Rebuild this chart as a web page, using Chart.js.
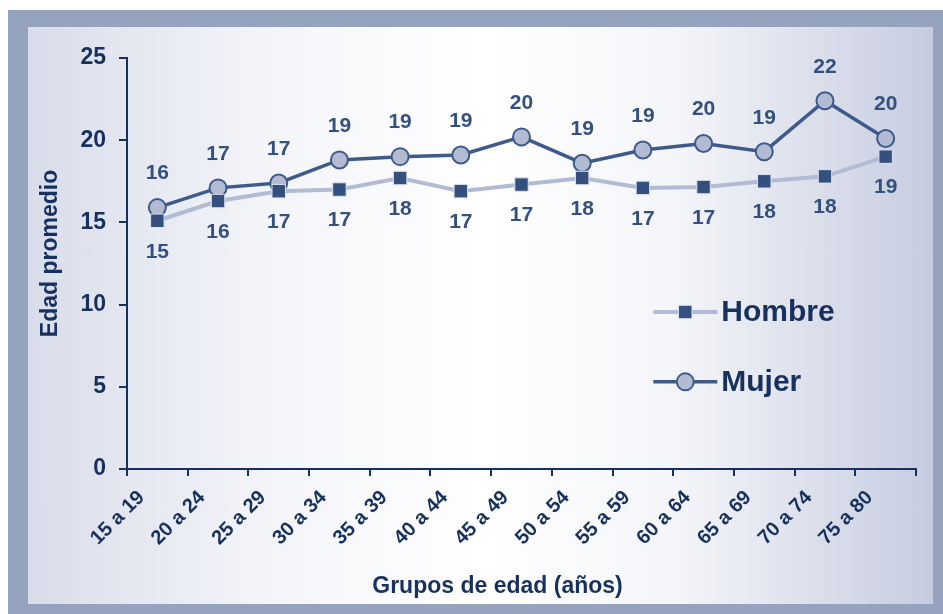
<!DOCTYPE html>
<html>
<head>
<meta charset="utf-8">
<script src="https://cdn.jsdelivr.net/npm/chart.js@4"></script>
<style>
  html, body { margin: 0; padding: 0; background: #ffffff; }
  #marco {
    position: absolute; left: 8px; top: 10px; width: 935px; height: 604px;
    background: #95a3bf;
  }
  #panel {
    position: absolute; left: 20px; top: 17px; width: 905px; height: 577px;
    background: linear-gradient(to right, #d9dcea 0%, #f3f4f9 25%, #ffffff 50%, #f4f5f9 72%, #c6cce0 100%);
  }
  canvas { display: block; }
</style>
</head>
<body>
<div id="marco">
  <div id="panel">
    <canvas id="grafica" width="905" height="577"></canvas>
  </div>
</div>
<script>
// Datos
const grupos = ["15 a 19", "20 a 24", "25 a 29", "30 a 34", "35 a 39", "40 a 44", "45 a 49",
                "50 a 54", "55 a 59", "60 a 64", "65 a 69", "70 a 74", "75 a 80"];
const hombre = [15.1, 16.3, 16.9, 17.0, 17.7, 16.9, 17.3, 17.7, 17.1, 17.15, 17.5, 17.8, 19.0];
const mujer = [15.9, 17.1, 17.4, 18.8, 19.0, 19.1, 20.2, 18.6, 19.4, 19.8, 19.3, 22.4, 20.1];
const ticksY = [0, 5, 10, 15, 20, 25];
const tituloX = 'Grupos de edad (años)';
const tituloY = 'Edad promedio';

const fuente = "'Liberation Sans', Arial, sans-serif";
const azulOscuro = '#17315f';
const azulEtiqueta = '#34507f';

// Etiquetas de valores (arriba Mujer, abajo Hombre)
const etiquetas = {
    id: 'etiquetas',
    afterDatasetsDraw(chart) {
        const ctx = chart.ctx;
        ctx.save();
        ctx.font = 'bold 21px ' + fuente;
        ctx.fillStyle = azulEtiqueta;
        ctx.textAlign = 'center';
        ctx.textBaseline = 'middle';
        chart.data.datasets.forEach((ds, i) => {
            const meta = chart.getDatasetMeta(i);
            meta.data.forEach((p, j) => {
                const dy = ds.label === 'Mujer' ? -34 : 31;
                ctx.fillText(Math.round(ds.data[j]), p.x, p.y + dy);
            });
        });
        ctx.restore();
    }
};

// Títulos de los ejes
const titulos = {
    id: 'titulos',
    afterDraw(chart) {
        const ctx = chart.ctx;
        const a = chart.chartArea;
        ctx.save();
        ctx.font = 'bold 23px ' + fuente;
        ctx.fillStyle = azulOscuro;
        ctx.textAlign = 'center';
        ctx.textBaseline = 'middle';
        ctx.fillText(tituloX, (a.left + a.right) / 2 - 24, chart.height - 17);
        ctx.translate(23, (a.top + a.bottom) / 2 - 10);
        ctx.rotate(-Math.PI / 2);
        ctx.fillText(tituloY, 0, 0);
        ctx.restore();
    }
};

// Leyenda dentro del área
const leyenda = {
    id: 'leyenda',
    afterDraw(chart) {
        const ctx = chart.ctx;
        const a = chart.chartArea;
        const x0 = a.left + (a.right - a.left) * 0.667;
        const largo = 64;
        ctx.save();
        chart.data.datasets.forEach((ds, i) => {
            const y = a.top + (a.bottom - a.top) * (0.618 + i * 0.17);
            ctx.strokeStyle = ds.borderColor;
            ctx.lineWidth = ds.borderWidth;
            ctx.beginPath();
            ctx.moveTo(x0, y);
            ctx.lineTo(x0 + largo, y);
            ctx.stroke();
            ctx.fillStyle = ds.pointBackgroundColor;
            ctx.strokeStyle = ds.pointBorderColor;
            ctx.lineWidth = ds.pointBorderWidth;
            ctx.beginPath();
            if (ds.pointStyle === 'rect') {
                const s = Math.SQRT1_2 * ds.pointRadius;
                ctx.rect(x0 + largo / 2 - s, y - s, 2 * s, 2 * s);
            } else {
                ctx.arc(x0 + largo / 2, y, ds.pointRadius, 0, Math.PI * 2);
            }
            ctx.fill();
            ctx.stroke();
            ctx.font = 'bold 30px ' + fuente;
            ctx.fillStyle = azulOscuro;
            ctx.textAlign = 'left';
            ctx.textBaseline = 'middle';
            ctx.fillText(ds.label, x0 + largo + 4, y + 1);
        });
        ctx.restore();
    }
};

new Chart(document.getElementById('grafica'), {
    type: 'line',
    data: {
        labels: grupos,
        datasets: [{
            label: 'Hombre',
            data: hombre,
            borderColor: '#b2bbd5',
            borderWidth: 4,
            pointStyle: 'rect',
            pointRadius: 9.5,
            pointHoverRadius: 9.5,
            pointBackgroundColor: '#34507f',
            pointBorderColor: '#dde1ee',
            pointBorderWidth: 1,
            tension: 0
        }, {
            label: 'Mujer',
            data: mujer,
            borderColor: '#3d5a8a',
            borderWidth: 3.5,
            pointStyle: 'circle',
            pointRadius: 8.5,
            pointHoverRadius: 8.5,
            pointBackgroundColor: '#b3bbd3',
            pointBorderColor: '#3d5a8a',
            pointBorderWidth: 2,
            tension: 0
        }]
    },
    options: {
        responsive: false,
        animation: false,
        layout: { padding: { left: 0, top: 31, right: 17, bottom: 0 } },
        plugins: {
            legend: { display: false },
            tooltip: { enabled: false }
        },
        scales: {
            x: {
                offset: true,
                grid: {
                    offset: true,
                    drawOnChartArea: false,
                    color: azulOscuro,
                    tickLength: 7,
                    lineWidth: 2
                },
                border: { color: azulOscuro, width: 2 },
                ticks: {
                    color: azulOscuro,
                    font: { family: fuente, size: 20, weight: 'bold' },
                    minRotation: 45,
                    maxRotation: 45,
                    padding: 10,
                    labelOffset: -16
                },
                afterFit(scale) { scale.height = 135; }
            },
            y: {
                min: 0,
                max: 25,
                afterBuildTicks(scale) { scale.ticks = ticksY.map(v => ({ value: v })); },
                grid: {
                    drawOnChartArea: false,
                    color: azulOscuro,
                    tickLength: 8,
                    lineWidth: 2
                },
                border: { color: azulOscuro, width: 2 },
                ticks: {
                    color: azulOscuro,
                    font: { family: fuente, size: 23, weight: 'bold' },
                    padding: 13
                },
                afterFit(scale) { scale.width = 99; }
            }
        }
    },
    plugins: [etiquetas, titulos, leyenda]
});
</script>
</body>
</html>
